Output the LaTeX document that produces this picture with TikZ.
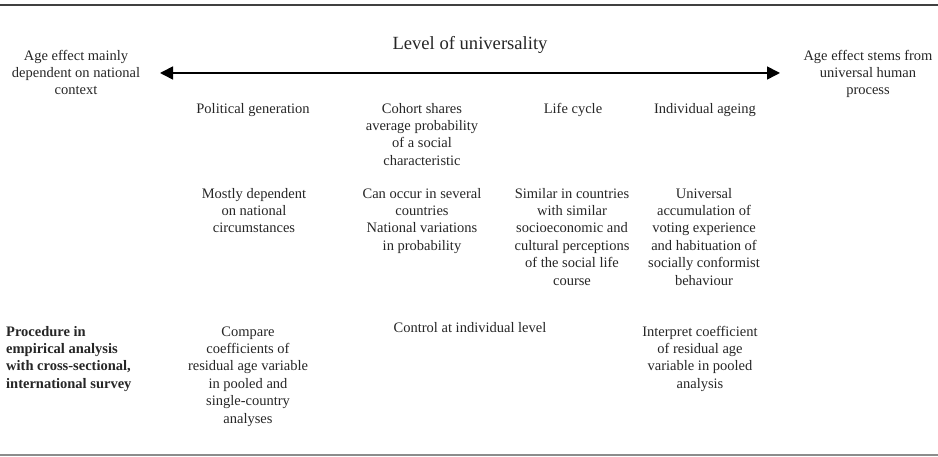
\documentclass[tikz,border=0pt]{standalone}
\usepackage{fontspec}
\setmainfont{Liberation Serif}
\usetikzlibrary{arrows.meta}
\begin{document}
\begin{tikzpicture}[x=1pt,y=1pt,
  txt/.style={inner sep=0pt, align=center, anchor=north, text=black!85,
    font=\fontsize{14.5}{17.4}\selectfont},
  lefttxt/.style={txt, align=left, anchor=north west,
    font=\fontsize{14.5}{17.4}\selectfont\bfseries},
  title/.style={inner sep=0pt, anchor=base, text=black!85,
    font=\fontsize{18.6}{22}\selectfont},
  rule/.style={line width=1.2pt},
  bigarrow/.style={line width=1.6pt, {Triangle[length=13pt,width=13pt]}-{Triangle[length=13pt,width=13pt]}}
]
\useasboundingbox (0,0) rectangle (938,457);
% rules (image y -> 457 - y)
\coordinate (tl) at (0,452);
\coordinate (tr) at (938,452);
\coordinate (bl) at (0,2);
\coordinate (br) at (938,2);
\draw[rule, black!75] (tl) -- (tr);
\draw[rule, black!45] (bl) -- (br);
% title
\node[title] (lev) at (470,407) {Level of universality};
% arrow
\coordinate (al) at (160,384);
\coordinate (ar) at (780,384);
\draw[bigarrow] (al) -- (ar);
% ends
\node[txt] (lt) at (76,409.2) {\strut Age effect mainly\\dependent on national\\context};
\node[txt] (rt) at (868,409.2) {\strut Age effect stems from\\universal human\\process};
% row 1 (baseline 113)
\node[txt] (r1a) at (253,356.2) {\strut Political generation};
\node[txt] (r1b) at (422,356.2) {\strut Cohort shares\\average probability\\of a social\\characteristic};
\node[txt] (r1c) at (573,356.2) {\strut Life cycle};
\node[txt] (r1d) at (705,356.2) {\strut Individual ageing};
% row 2 (baseline 198)
\node[txt] (r2a) at (254,271.2) {\strut Mostly dependent\\on national\\circumstances};
\node[txt] (r2b) at (422,271.2) {\strut Can occur in several\\countries\\National variations\\in probability};
\node[txt] (r2c) at (572,271.2) {\strut Similar in countries\\with similar\\socioeconomic and\\cultural perceptions\\of the social life\\course};
\node[txt] (r2d) at (704,271.2) {\strut Universal\\accumulation of\\voting experience\\and habituation of\\socially conformist\\behaviour};
% row 3 (baseline 336)
\node[lefttxt] (r3l) at (6,133.2) {\strut Procedure in\\empirical analysis\\with cross-sectional,\\international survey};
\node[txt] (r3a) at (248,133.2) {\strut Compare\\coefficients of\\residual age variable\\in pooled and\\single-country\\analyses};
\node[txt] (r3b) at (470,137.2) {\strut Control at individual level};
\node[txt] (r3c) at (700,133.2) {\strut Interpret coefficient\\of residual age\\variable in pooled\\analysis};
\end{tikzpicture}
\end{document}
